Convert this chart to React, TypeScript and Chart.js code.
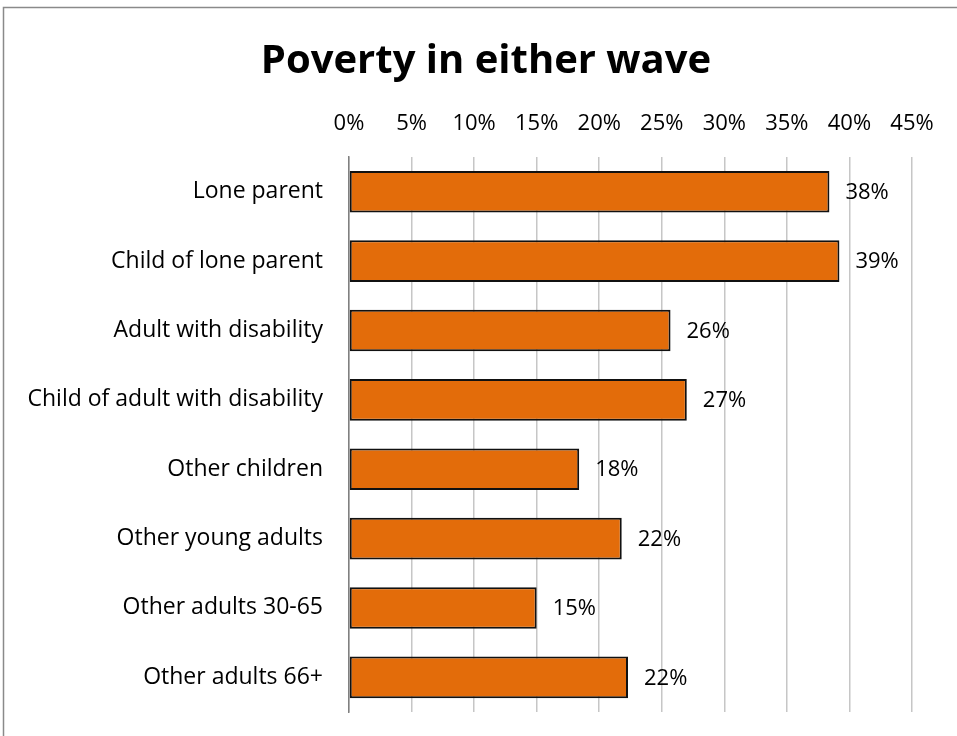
import React, { useEffect, useRef } from "react";
import { Chart, registerables } from "chart.js";

Chart.register(...registerables);

const TITLE = "Poverty in either wave";
const categories = [
  "Lone parent",
  "Child of lone parent",
  "Adult with disability",
  "Child of adult with disability",
  "Other children",
  "Other young adults",
  "Other adults 30-65",
  "Other adults 66+",
];
const povertyValues = [38.4, 39.2, 25.7, 27.0, 18.4, 21.8, 15.0, 22.3];
const xTickMax = 45;
const xTickStep = 5;

const FONT = "'Open Sans', sans-serif";
const BAR_COLOR = "#E36C0A";

const frameBorder = {
  id: "frameBorder",
  afterLayout(chart: any) {
    // let long category labels extend left of the layout padding without clipping
    if (chart.scales.y) chart.scales.y.left = 0;
  },
  afterDraw(chart: any) {
    const ctx = chart.ctx;
    ctx.save();
    ctx.strokeStyle = "#8a8a8a";
    ctx.lineWidth = 1.5;
    ctx.beginPath();
    ctx.moveTo(3.5, chart.height);
    ctx.lineTo(3.5, 7.5);
    ctx.lineTo(chart.width, 7.5);
    ctx.stroke();
    ctx.restore();
  },
};

const barValueLabels = {
  id: "barValueLabels",
  afterDatasetsDraw(chart: any) {
    const ctx = chart.ctx;
    ctx.save();
    ctx.font = `22px ${FONT}`;
    ctx.fillStyle = "#000";
    ctx.textAlign = "left";
    ctx.textBaseline = "middle";
    chart.data.datasets.forEach((ds: any, di: number) => {
      const meta = chart.getDatasetMeta(di);
      meta.data.forEach((bar: any, i: number) => {
        const v = ds.data[i];
        ctx.fillText(`${Math.round(v)}%`, bar.x + 16, bar.y + 1);
      });
    });
    ctx.restore();
  },
};

export default function App() {
  const ref = useRef<HTMLCanvasElement>(null);

  useEffect(() => {
    document.body.style.margin = "0";
    const chart = new Chart(ref.current!, {
      type: "bar",
      data: {
        labels: categories,
        datasets: [
          {
            data: povertyValues,
            backgroundColor: BAR_COLOR,
            borderColor: "#111",
            borderWidth: 2,
            borderSkipped: false,
            barPercentage: 0.6,
            categoryPercentage: 1,
          },
        ],
      },
      options: {
        indexAxis: "y",
        animation: false,
        responsive: false,
        devicePixelRatio: 1,
        layout: { padding: { left: 60, right: 45, top: 0, bottom: 24 } },
        plugins: {
          legend: { display: false },
          tooltip: { enabled: false },
          title: {
            display: true,
            text: TITLE,
            color: "#000",
            font: { family: FONT, size: 40, weight: "bold", lineHeight: 1.2 },
            padding: { top: 38, bottom: 6.6 },
          },
        },
        scales: {
          x: {
            position: "top",
            min: 0,
            max: xTickMax,
            ticks: {
              stepSize: xTickStep,
              color: "#000",
              font: { family: FONT, size: 22 },
              padding: 20,
              callback: (v: any) => `${v}%`,
            },
            grid: { color: "#c6c6c6", lineWidth: 1.5, drawTicks: false },
            border: { display: false },
            afterFit: (scale: any) => {
              scale.height = 64.4;
            },
          },
          y: {
            ticks: {
              color: "#000",
              font: { family: FONT, size: 23 },
              padding: 26,
            },
            grid: { display: false, drawTicks: false },
            border: { display: true, color: "#808080", width: 1.5 },
            afterFit: (scale: any) => {
              scale.width = 289;
              scale.paddingTop = 0;
              scale.paddingBottom = 0;
            },
          },
        },
      },
      plugins: [frameBorder, barValueLabels],
    });
    return () => chart.destroy();
  }, []);

  return (
    <div style={{ position: "absolute", left: 0, top: 0, width: 957, height: 736, background: "#fff" }}>
      <canvas ref={ref} width={957} height={736} />
    </div>
  );
}
